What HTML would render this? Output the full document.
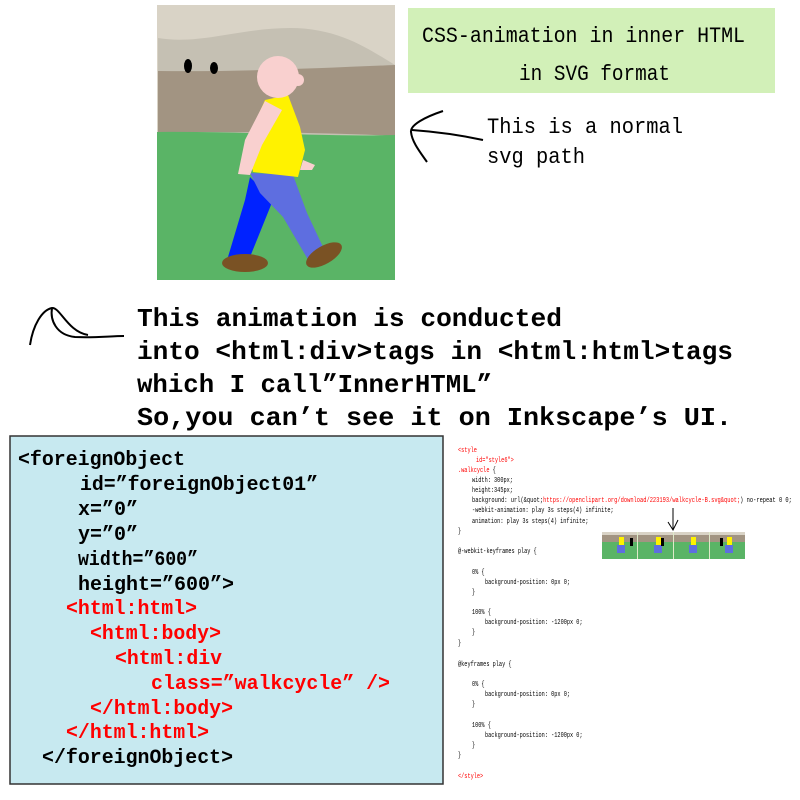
<!DOCTYPE html>
<html><head><meta charset="utf-8"><style>
html,body{margin:0;padding:0;background:#fff;width:800px;height:800px;overflow:hidden}
svg text{font-family:"Liberation Mono","IPAGothic",monospace}
</style></head><body>
<svg width="800" height="800" viewBox="0 0 800 800" xmlns="http://www.w3.org/2000/svg">
<rect x="157" y="5" width="238" height="275" fill="#d9d3c6"/>
<path d="M158 38 C200 45 240 28 290 28 C340 28 370 50 395 65 L395 135 L158 135Z" fill="#c5c0b3"/>
<path d="M158 71 C240 72 320 68 395 65 L395 136 C320 132 240 132 158 132Z" fill="#a29482"/>
<path d="M157 132 C240 131 320 137 395 135 L395 280 L157 280Z" fill="#5ab466"/>
<ellipse cx="188" cy="66" rx="4" ry="7" fill="#000"/>
<ellipse cx="214" cy="68" rx="4" ry="6" fill="#000"/>
<polygon points="250,177 273,200 250,257 228,257 245,200" fill="#0022ff"/>
<polygon points="250,173 293,175 307,213 323,247 310,263 283,217 260,193" fill="#5e6ee0"/>
<ellipse cx="245" cy="263" rx="23" ry="9" fill="#7a5224"/>
<ellipse cx="324" cy="255" rx="20" ry="9" fill="#7a5224" transform="rotate(-30 324 255)"/>
<polygon points="265,100 288,95 300,127 305,150 298,177 253,172 247,140" fill="#fff200"/>
<polygon points="303,160 315,165 312,170 300,170" fill="#f9d0cf"/>
<polygon points="265,101 282,110 262,145 250,175 238,174 245,140" fill="#f9d0cf"/>
<circle cx="278" cy="77" r="21" fill="#f9d0cf"/>
<circle cx="298" cy="80" r="6" fill="#f9d0cf"/>
<rect x="408" y="8" width="367" height="85" fill="#d2f0b8"/>
<text x="422" y="42" font-size="22" textLength="323" lengthAdjust="spacingAndGlyphs">CSS-animation in inner HTML</text>
<text x="519" y="80" font-size="22" textLength="151" lengthAdjust="spacingAndGlyphs">in SVG format</text>
<path d="M483 140 C460 135 440 132 412 130" stroke="#000" stroke-width="2" fill="none"/>
<path d="M443 111 C425 117 410 125 411 132 C412 142 420 152 427 162" stroke="#000" stroke-width="2" fill="none"/>
<text x="487" y="133" font-size="22" textLength="196" lengthAdjust="spacingAndGlyphs">This is a normal</text>
<text x="487" y="163" font-size="22" textLength="98" lengthAdjust="spacingAndGlyphs">svg path</text>
<path d="M30 345 C33 325 42 310 52 308 C60 307 68 332 88 335" stroke="#000" stroke-width="2" fill="none"/>
<path d="M52 308 C50 320 56 335 75 337 C95 338 110 336 124 336" stroke="#000" stroke-width="2" fill="none"/>
<g font-size="26" font-weight="bold">
<text x="137" y="326" textLength="425" lengthAdjust="spacingAndGlyphs">This animation is conducted</text>
<text x="137" y="359" textLength="596" lengthAdjust="spacingAndGlyphs">into &lt;html:div&gt;tags in &lt;html:html&gt;tags</text>
<text x="137" y="392" textLength="355" lengthAdjust="spacingAndGlyphs">which I call”InnerHTML”</text>
<text x="137" y="425" textLength="595" lengthAdjust="spacingAndGlyphs">So,you can’t see it  on Inkscape’s UI.</text>
</g>
<rect x="10" y="436" width="433" height="348" fill="#c7e9f0" stroke="#333" stroke-width="1.5"/>
<g font-size="20" font-weight="bold">
<text x="18" y="465" textLength="167" lengthAdjust="spacingAndGlyphs">&lt;foreignObject</text>
<text x="80" y="490" textLength="238" lengthAdjust="spacingAndGlyphs">id=”foreignObject01”</text>
<text x="78" y="515" textLength="60" lengthAdjust="spacingAndGlyphs">x=”0”</text>
<text x="78" y="540" textLength="60" lengthAdjust="spacingAndGlyphs">y=”0”</text>
<text x="78" y="565" textLength="120" lengthAdjust="spacingAndGlyphs">width=”600”</text>
<text x="78" y="590" textLength="156" lengthAdjust="spacingAndGlyphs">height=”600”&gt;</text>
<g fill="#ff0000">
<text x="66" y="614" textLength="131" lengthAdjust="spacingAndGlyphs">&lt;html:html&gt;</text>
<text x="90" y="639" textLength="131" lengthAdjust="spacingAndGlyphs">&lt;html:body&gt;</text>
<text x="115" y="664" textLength="107" lengthAdjust="spacingAndGlyphs">&lt;html:div</text>
<text x="151" y="689" textLength="239" lengthAdjust="spacingAndGlyphs">class=”walkcycle” /&gt;</text>
<text x="90" y="714" textLength="143" lengthAdjust="spacingAndGlyphs">&lt;/html:body&gt;</text>
<text x="66" y="738" textLength="143" lengthAdjust="spacingAndGlyphs">&lt;/html:html&gt;</text>
</g>
<text x="42" y="763" textLength="191" lengthAdjust="spacingAndGlyphs">&lt;/foreignObject&gt;</text>
</g>
<g font-size="7.5" fill="#000" transform="translate(458 0) scale(0.7 1) translate(-458 0)">
<text x="458" y="452" fill="#f00">&lt;style</text>
<text x="483.7" y="462" fill="#f00">id="style6"&gt;</text>
<text x="458" y="472" fill="#f00">.walkcycle <tspan fill="#000">{</tspan></text>
<text x="478" y="482">width: 300px;</text>
<text x="478" y="492">height:345px;</text>
<text x="478" y="502" textLength="457" lengthAdjust="spacingAndGlyphs">background: url(&amp;quot;<tspan fill="#f00">https://openclipart.org/download/223193/walkcycle-B.svg&amp;quot;</tspan>) no-repeat 0 0;</text>
<text x="478" y="512">-webkit-animation: play 3s steps(4) infinite;</text>
<text x="478" y="523">animation: play 3s steps(4) infinite;</text>
<text x="458" y="533">}</text>
<text x="458" y="553">@-webkit-keyframes play {</text>
<text x="478" y="574">0% {</text>
<text x="496.6" y="584">background-position: 0px 0;</text>
<text x="478" y="594">}</text>
<text x="478" y="614">100% {</text>
<text x="496.6" y="624">background-position: -1200px 0;</text>
<text x="478" y="634">}</text>
<text x="458" y="645">}</text>
<text x="458" y="666">@keyframes play {</text>
<text x="478" y="686">0% {</text>
<text x="496.6" y="696">background-position: 0px 0;</text>
<text x="478" y="706">}</text>
<text x="478" y="727">100% {</text>
<text x="496.6" y="737">background-position: -1200px 0;</text>
<text x="478" y="747">}</text>
<text x="458" y="757">}</text>
<text x="458" y="778" fill="#f00">&lt;/style&gt;</text>
</g>
<path d="M673 508 L673 530 M668 522 L673 530 L678 520" stroke="#000" stroke-width="1" fill="none"/>
<g>
<rect x="602" y="532" width="143" height="27" fill="#5ab466"/>
<rect x="602" y="532" width="143" height="10" fill="#a29482"/>
<rect x="602" y="532" width="143" height="3" fill="#d9d3c6"/>
<g fill="#fff200"><rect x="619" y="537" width="5" height="8"/><rect x="656" y="537" width="5" height="8"/><rect x="691" y="537" width="5" height="8"/><rect x="727" y="537" width="5" height="8"/></g>
<g fill="#5e6ee0"><rect x="617" y="545" width="8" height="8"/><rect x="654" y="545" width="8" height="8"/><rect x="689" y="545" width="8" height="8"/><rect x="725" y="545" width="8" height="8"/></g>
<g fill="#000"><rect x="630" y="538" width="3" height="8"/><rect x="661" y="538" width="3" height="8"/><rect x="720" y="538" width="3" height="8"/></g>
<g stroke="#dfe9c9" stroke-width="1"><line x1="637.5" y1="532" x2="637.5" y2="559"/><line x1="673.5" y1="532" x2="673.5" y2="559"/><line x1="709.5" y1="532" x2="709.5" y2="559"/></g>
</g>
</svg>
</body></html>
